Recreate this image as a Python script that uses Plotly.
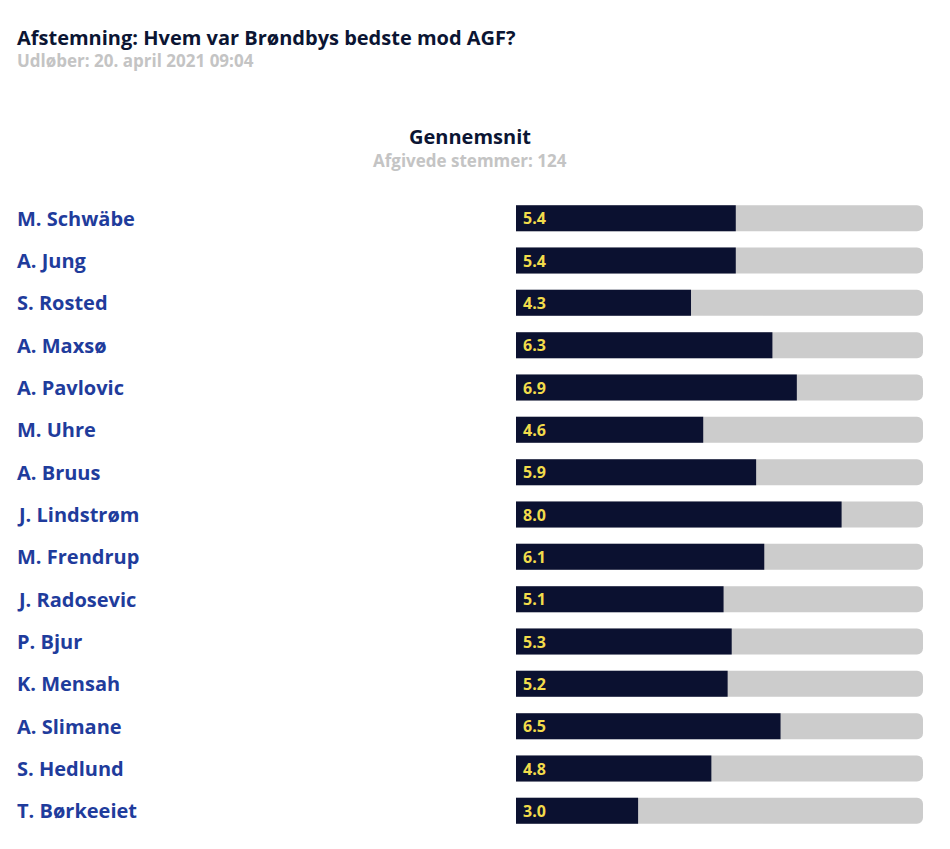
import plotly.graph_objects as go

players = ["M. Schwäbe", "A. Jung", "S. Rosted", "A. Maxsø", "A. Pavlovic", "M. Uhre",
           "A. Bruus", "J. Lindstrøm", "M. Frendrup", "J. Radosevic", "P. Bjur",
           "K. Mensah", "A. Slimane", "S. Hedlund", "T. Børkeeiet"]
averages = [5.4, 5.4, 4.3, 6.3, 6.9, 4.6, 5.9, 8.0, 6.1, 5.1, 5.3, 5.2, 6.5, 4.8, 3.0]
max_score = 10
votes = 124

FONT = "Open Sans"
DARK = "#0b1130"
GRAY = "#cccccc"
BLUE = "#1f3c9c"
YELLOW = "#f2dc4b"

fig = go.Figure()
fig.add_trace(go.Bar(
    y=players, x=[max_score] * len(players), orientation="h",
    marker=dict(color=GRAY, cornerradius=6, line=dict(width=0)),
    hoverinfo="skip", showlegend=False,
))
fig.add_trace(go.Bar(
    y=players, x=averages, orientation="h",
    marker=dict(color=DARK, cornerradius=6, line=dict(width=0)),
    hoverinfo="skip", showlegend=False,
))

for p, v in zip(players, averages):
    fig.add_annotation(x=0, xref="paper", y=p, yref="y", text=p, showarrow=False,
                       xanchor="left", yanchor="middle", xshift=-2,
                       font=dict(family=FONT, size=20, color=BLUE, weight="bold"))
    fig.add_annotation(x=0, xref="x", y=p, yref="y", text=f"{v:.1f}", showarrow=False,
                       xanchor="left", yanchor="middle", xshift=5,
                       font=dict(family=FONT, size=16, color=YELLOW, weight="bold"))

W, H = 950, 849
ml, mr, mt, mb = 17, 27, 197, 17
pw = W - ml - mr

def py(pix):
    return (H - mb - pix) / (H - mt - mb)

anns = [
    (0, 37, "Afstemning: Hvem var Brøndbys bedste mod AGF?", "left", 20, "#0b1533"),
    (0, 60, "Udløber: 20. april 2021 09:04", "left", 17, "#c4c4c4"),
    (0.5, 137, "Gennemsnit", "center", 20, "#0b1533"),
    (0.5, 160, f"Afgivede stemmer: {votes}", "center", 17, "#c4c4c4"),
]
for x, ypix, t, anc, sz, col in anns:
    fig.add_annotation(x=x, xref="paper", y=py(ypix), yref="paper", text=t, showarrow=False,
                       xanchor=anc, yanchor="middle", xshift=-2 if anc == "left" else 0,
                       font=dict(family=FONT, size=sz, color=col, weight="bold"))

fig.update_layout(
    width=W, height=H, margin=dict(l=ml, r=mr, t=mt, b=mb),
    barmode="overlay", bargap=0.386,
    paper_bgcolor="white", plot_bgcolor="white",
    xaxis=dict(domain=[(516 - ml) / pw, 1], range=[0, max_score], visible=False, fixedrange=True),
    yaxis=dict(autorange="reversed", visible=False, fixedrange=True),
    font=dict(family=FONT),
)

fig.write_html("out.html", config={"displayModeBar": False})
